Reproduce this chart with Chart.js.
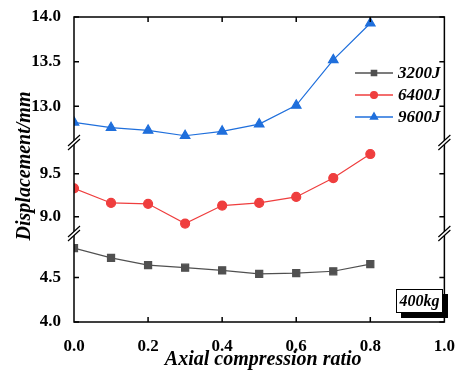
<!DOCTYPE html>
<html>
<head>
<meta charset="utf-8">
<script src="https://cdn.jsdelivr.net/npm/chart.js@4/dist/chart.umd.min.js"></script>
<style>
  html, body { margin: 0; padding: 0; background: #fff; }
  #wrap { width: 461px; height: 372px; }
</style>
</head>
<body>
<div id="wrap"><canvas id="dispChart"></canvas></div>
<script>
// axial compression ratio
const ratios = [0, 0.1, 0.2, 0.3, 0.4, 0.5, 0.6, 0.7, 0.8];
// displacement (mm) per impact energy
const disp3200 = [4.83, 4.72, 4.64, 4.61, 4.58, 4.54, 4.55, 4.57, 4.65];
const disp6400 = [9.33, 9.16, 9.15, 8.92, 9.13, 9.16, 9.23, 9.45, 9.73];
const disp9600 = [12.82, 12.76, 12.73, 12.67, 12.72, 12.80, 13.01, 13.52, 13.93];

const xTicks = [0, 0.2, 0.4, 0.6, 0.8, 1.0];
const yTicksTop = [13.0, 13.5, 14.0];
const yTicksMid = [9.0, 9.5];
const yTicksLow = [4.0, 4.5];

const C_GREY = '#505050';
const C_RED = '#ef3e3e';
const C_BLUE = '#1f6fdc';

const SERIF = "'Liberation Serif', 'Times New Roman', serif";

Chart.defaults.font.family = SERIF;
Chart.defaults.color = '#000';

const pts = arr => arr.map((v, i) => ({ x: ratios[i], y: v }));

function segAxis(min, max, weight, ticks) {
    return {
        type: 'linear',
        position: 'left',
        stack: 'disp',
        stackWeight: weight,
        min: min,
        max: max,
        grid: { display: false },
        border: { display: false },
        afterBuildTicks: s => { s.ticks = ticks.map(v => ({ value: v })); },
        afterFit: s => { s.width = 74; },
        ticks: {
            padding: 5,
            font: { size: 17, weight: 'bold' },
            callback: v => Number(v).toFixed(1)
        }
    };
}

// frame, inward ticks, axis breaks, legend and annotation box
const decor = {
    id: 'decor',
    afterDraw(chart) {
        const { ctx, chartArea: a, scales } = chart;
        const xs = scales.x;
        ctx.save();
        ctx.strokeStyle = '#000';
        ctx.lineWidth = 1.5;
        ctx.strokeRect(a.left, a.top, a.right - a.left, a.bottom - a.top);

        // inward tick marks
        ctx.beginPath();
        xTicks.slice(1, -1).forEach(v => {
            const px = xs.getPixelForValue(v);
            ctx.moveTo(px, a.bottom); ctx.lineTo(px, a.bottom - 5);
            ctx.moveTo(px, a.top); ctx.lineTo(px, a.top + 5);
        });
        [['yTop', yTicksTop], ['yMid', yTicksMid], ['yLow', yTicksLow]].forEach(([id, tv]) => {
            tv.forEach(v => {
                const py = scales[id].getPixelForValue(v);
                ctx.moveTo(a.left, py); ctx.lineTo(a.left + 5, py);
                ctx.moveTo(a.right, py); ctx.lineTo(a.right - 5, py);
            });
        });
        ctx.stroke();

        // axis breaks
        const breaks = [scales.yTop.bottom, scales.yMid.bottom];
        breaks.forEach(by => {
            [a.left, a.right].forEach(bx => {
                ctx.fillStyle = '#fff';
                ctx.beginPath();
                ctx.moveTo(bx - 6, by + 4);
                ctx.lineTo(bx + 6, by - 7);
                ctx.lineTo(bx + 6, by - 3);
                ctx.lineTo(bx - 6, by + 8);
                ctx.closePath();
                ctx.fill();
                ctx.strokeStyle = '#000';
                ctx.lineWidth = 1.2;
                ctx.beginPath();
                ctx.moveTo(bx - 6, by + 4); ctx.lineTo(bx + 6, by - 7);
                ctx.moveTo(bx - 6, by + 8); ctx.lineTo(bx + 6, by - 3);
                ctx.stroke();
            });
        });

        // y title
        ctx.fillStyle = '#000';
        ctx.font = `italic bold 20px ${SERIF}`;
        ctx.textAlign = 'center';
        ctx.textBaseline = 'middle';
        ctx.save();
        ctx.translate(25, 166);
        ctx.rotate(-Math.PI / 2);
        ctx.fillText('Displacement/mm', 0, 0);
        ctx.restore();

        // x title
        ctx.fillText('Axial compression ratio', (a.left + a.right) / 2 + 4, 360);

        // legend
        ctx.textAlign = 'left';
        ctx.font = `italic bold 17px ${SERIF}`;
        chart.data.datasets.forEach((ds, i) => {
            const ly = 73 + i * 22;
            ctx.strokeStyle = ds.borderColor;
            ctx.fillStyle = ds.borderColor;
            ctx.lineWidth = 1.3;
            ctx.beginPath();
            ctx.moveTo(355, ly); ctx.lineTo(393, ly);
            ctx.stroke();
            Chart.helpers.drawPoint(ctx, {
                pointStyle: ds.pointStyle, radius: ds.pointRadius * 0.75, borderWidth: 1
            }, 374, ly);
            ctx.fillStyle = '#000';
            ctx.fillText(ds.label, 398, ly + 1);
        });

        // load annotation
        ctx.fillStyle = '#000';
        ctx.fillRect(401, 294, 47, 24);
        ctx.fillStyle = '#fff';
        ctx.fillRect(396, 289, 47, 24);
        ctx.strokeStyle = '#000';
        ctx.lineWidth = 1;
        ctx.strokeRect(396.5, 289.5, 46, 23);
        ctx.fillStyle = '#000';
        ctx.font = `italic bold 16px ${SERIF}`;
        ctx.textAlign = 'center';
        ctx.fillText('400kg', 419.5, 302);
        ctx.restore();
    }
};

function series(label, data, color, style, radius, axis) {
    return {
        label: label,
        data: pts(data),
        yAxisID: axis,
        borderColor: color,
        backgroundColor: color,
        pointBackgroundColor: color,
        pointBorderColor: color,
        pointStyle: style,
        pointRadius: radius,
        borderWidth: 1.2,
        tension: 0
    };
}

new Chart(document.getElementById('dispChart'), {
    type: 'line',
    data: {
        datasets: [
            series('3200J', disp3200, C_GREY, 'rect', 5, 'yLow'),
            series('6400J', disp6400, C_RED, 'circle', 4.5, 'yMid'),
            series('9600J', disp9600, C_BLUE, 'triangle', 5.5, 'yTop')
        ]
    },
    options: {
        responsive: true,
        maintainAspectRatio: false,
        animation: false,
        layout: { padding: { top: 17, right: 8, left: 0, bottom: 0 } },
        plugins: { legend: { display: false }, tooltip: { enabled: false } },
        scales: {
            x: {
                type: 'linear',
                min: 0,
                max: 1,
                grid: { display: false },
                border: { display: false },
                afterBuildTicks: s => { s.ticks = xTicks.map(v => ({ value: v })); },
                afterFit: s => { s.height = 50; },
                ticks: {
                    padding: 6,
                    font: { size: 17, weight: 'bold' },
                    callback: v => Number(v).toFixed(1)
                }
            },
            // stacked segments are laid out bottom-up in definition order
            yLow: segAxis(4.0, 5.0, 89, yTicksLow),
            yMid: segAxis(8.81, 9.87, 91, yTicksMid),
            yTop: segAxis(12.6, 14.0, 125, yTicksTop)
        }
    },
    plugins: [decor]
});
</script>
</body>
</html>
